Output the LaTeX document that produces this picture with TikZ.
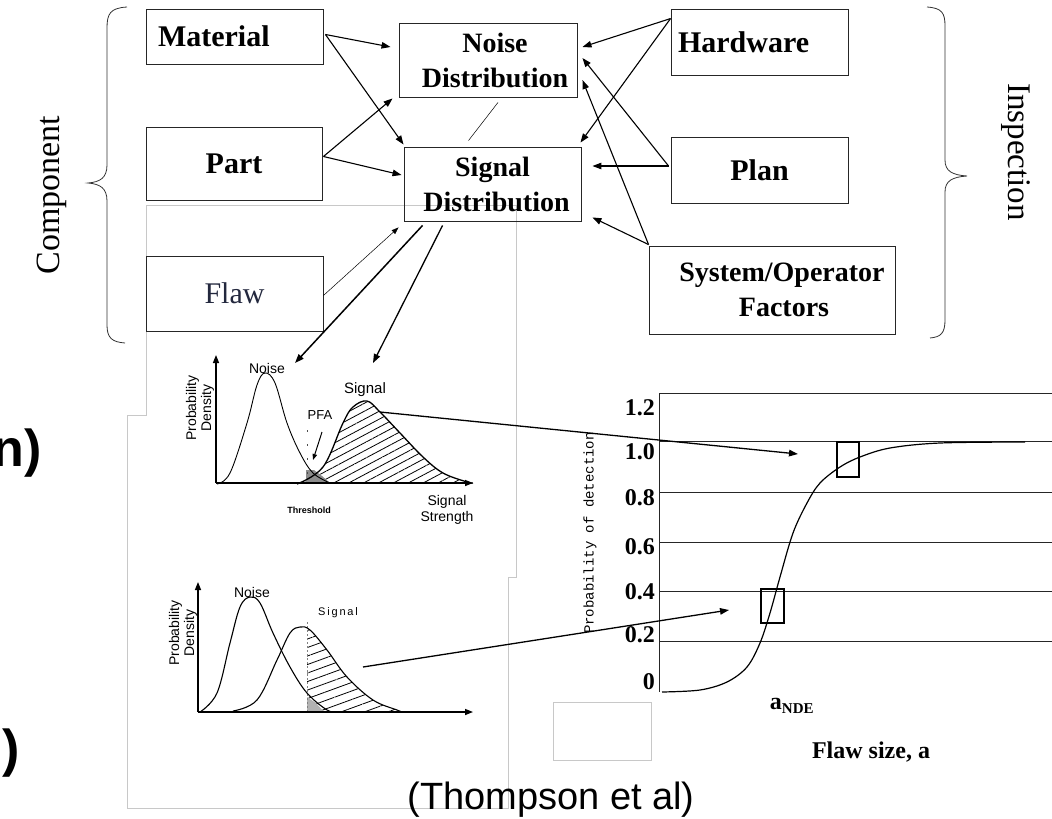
\documentclass[tikz,border=0pt]{standalone}
\usepackage{fontspec}
\setmainfont{Liberation Serif}
\setsansfont{Liberation Sans}
\setmonofont{Liberation Mono}
\usetikzlibrary{arrows.meta,calc,patterns.meta}
\definecolor{flawink}{RGB}{35,40,62}
\definecolor{pagegray}{RGB}{200,200,200}
\begin{document}
\begin{tikzpicture}[x=1pt,y=-1pt,
  box/.style={draw=black!85,line width=0.9pt,rectangle,inner sep=0pt,align=center,
    font=\fontsize{30}{33}\selectfont\bfseries},
  box2/.style={box,font=\fontsize{28}{35}\selectfont\bfseries},
  conn/.style={line width=1.1pt,-{Triangle[length=9pt,width=6.5pt]}},
  thinconn/.style={line width=0.5pt,-{Triangle[length=7pt,width=5pt]}},
  axisarrow/.style={line width=1.4pt,-{Triangle[length=8pt,width=6pt]}},
  curve/.style={line width=1.1pt},
  grid/.style={line width=0.8pt,black!85},
  plotlbl/.style={font=\fontsize{14}{15}\sffamily,inner sep=0pt},
  podlbl/.style={font=\fontsize{24}{24}\selectfont\bfseries,anchor=east,inner sep=0pt},
  brace/.style={line width=0.8pt,black!80}
]
\useasboundingbox (0,0) rectangle (1052,819);
\fill[white] (0,0) rectangle (1052,819);

% pasted image frame
\draw[pagegray,line width=0.7pt] (146,205) -- (516,205) -- (516,577) -- (508,577) -- (508,808)
  -- (127,808) -- (127,415) -- (146,415) -- cycle;

% clipped slide text at the left
\node[anchor=east,inner sep=0pt,font=\fontsize{52}{56}\sffamily\bfseries] (frag1) at (42,453) {n)};
\node[anchor=east,inner sep=0pt,font=\fontsize{52}{56}\sffamily\bfseries] (frag2) at (20,753) {)};

% braces
\draw[brace] (127,7) .. controls (110,8) and (107,14) .. (107,28) -- (107,165)
  .. controls (107,178) and (100,182) .. (88,183)
  .. controls (100,184) and (107,188) .. (107,201) -- (107,325)
  .. controls (107,338) and (112,342) .. (125,343);
\draw[brace] (927,7) .. controls (942,8) and (945,13) .. (945,26) -- (945,160)
  .. controls (945,171) and (952,175) .. (967,176)
  .. controls (952,177) and (945,181) .. (945,192) -- (945,320)
  .. controls (945,333) and (941,337) .. (930,338);
\node[rotate=90,font=\fontsize{34}{36}\selectfont,inner sep=0pt] (comp) at (52,195) {Component};
\node[rotate=-90,font=\fontsize{33}{35}\selectfont,inner sep=0pt] (insp) at (1016,152) {Inspection};

% boxes
\node[box,minimum width=177pt,minimum height=55pt,text width=153pt,align=left,inner xsep=12pt] (mat) at (234.5,36.5) {Material};
\node[box,minimum width=176pt,minimum height=73pt] (part) at (234,163.5) {Part};
\node[box,minimum width=177pt,minimum height=75pt,font=\fontsize{30}{33}\selectfont,text=flawink] (flaw) at (234.5,293.5) {Flaw};
\node[box2,minimum width=178pt,minimum height=74pt] (noise) at (488,60) {\hspace*{14pt}Noise\\\hspace*{14pt}Distribution};
\node[box2,minimum width=177pt,minimum height=74pt] (signal) at (492.5,184) {Signal\\\hspace*{8pt}Distribution};
\node[box,minimum width=177pt,minimum height=66pt,text width=163pt,align=left,inner xsep=7pt] (hw) at (759.5,42) {Hardware};
\node[box,minimum width=177pt,minimum height=66pt] (plan) at (759.5,170) {Plan};
\node[box2,minimum width=246pt,minimum height=88pt] (sys) at (772,290) {\hspace*{20pt}System/Operator\\\hspace*{24pt}Factors};

% connectors of the top diagram
\draw[conn] ($(mat.east)+(2,-2)$) -- ($(noise.west)+(-8,-13)$);
\draw[conn] ($(mat.east)+(2,-2)$) -- ($(signal.north west)+(0,-2)$);
\draw[conn] ($(part.east)+(1,-7)$) -- ($(noise.south west)+(-6,1)$);
\draw[conn] ($(part.east)+(1,-7)$) -- ($(signal.west)+(-2,-9)$);
\draw[thinconn] ($(flaw.east)+(0,2)$) -- ($(signal.south west)+(-5,6)$);
\draw[conn] ($(hw.north west)+(0,10)$) -- ($(noise.east)+(5,-13)$);
\draw[conn] ($(hw.north west)+(0,10)$) -- ($(signal.north east)+(-1,-4)$);
\draw[conn] ($(plan.west)+(-2,-4)$) -- ($(noise.east)+(5,-2)$);
\draw[conn] ($(plan.west)+(-2,-4)$) -- ($(signal.east)+(11,-18)$);
\draw[conn] ($(sys.north west)+(0,-1)$) -- ($(noise.east)+(5,20)$);
\draw[conn] ($(sys.north west)+(0,-1)$) -- ($(signal.south east)+(11,-4)$);
\draw[line width=0.5pt] ($(noise.south)+(10,5)$) -- ($(signal.north)+(-24,-6)$);

% ---------- upper density plot ----------
\coordinate (tn1) at (295,363);
\coordinate (ts1) at (373,363);
\draw[line width=1.5pt,-{Triangle[length=9pt,width=6.5pt]}] ($(signal.south west)+(19,4)$) -- (tn1);
\draw[line width=1.3pt,-{Triangle[length=9pt,width=6.5pt]}] ($(signal.south west)+(39,4)$) -- (ts1);

\fill[pattern={Lines[angle=28,distance=7pt,line width=0.8pt]}]
  plot[smooth,tension=0.6] coordinates {(297,484) (323,467) (343,423) (353,407) (367,401) (380,412) (400,433) (423,457) (443,473) (467,482) (473,483)} -- cycle;
\fill[black!45] (306,470) -- (314,470) -- (322,476) -- (330,483) -- (306,484) -- cycle;
\draw[curve,line width=0.9pt] plot[smooth,tension=0.6] coordinates {(217,484) (230,473) (247,423) (257,385) (265,373) (275,383) (287,423) (300,453) (313,473) (330,483)};
\draw[curve,line width=1.3pt] plot[smooth,tension=0.6] coordinates {(297,484) (323,467) (343,423) (353,407) (367,401) (380,412) (400,433) (423,457) (443,473) (467,482) (473,483)};
\draw[black!70,line width=1pt,dash pattern=on 2pt off 12pt] (307,430) -- (307,484);
\draw[axisarrow] (216,483) -- (216,355);
\draw[axisarrow] (216,483) -- (473,483);
\draw[line width=1pt,-{Triangle[length=6pt,width=4.5pt]}] (322,432) -- (313,460);
\node[plotlbl] (nl1) at (267,368) {Noise};
\node[plotlbl,font=\fontsize{15}{16}\sffamily] (sl1) at (365,390) {Signal};
\node[plotlbl,font=\fontsize{13}{14}\sffamily] (pfa) at (320,415) {PFA};
\node[plotlbl,rotate=90,align=center] (pd1) at (200,408) {Probability\\Density};
\node[plotlbl,font=\fontsize{9}{10}\sffamily\bfseries] (thr) at (309,510) {Threshold};
\node[plotlbl,align=center,font=\fontsize{14}{16}\sffamily] (ss) at (447,510) {Signal\\Strength};

% ---------- lower density plot ----------
\begin{scope}
  \clip (307,560) rectangle (420,713);
  \fill[pattern={Lines[angle=20,distance=8pt,line width=0.8pt]}]
    plot[smooth,tension=0.6] coordinates {(233,711) (257,700) (277,660) (290,633) (300,627) (310,630) (327,650) (347,677) (373,700) (397,710) (402,712)} -- cycle;
\end{scope}
\fill[black!30] (307,697) -- (316,703) -- (324,712) -- (307,712) -- cycle;
\draw[black!50,line width=0.7pt,dash pattern=on 2pt off 2pt] (307,622) -- (307,712);
\draw[curve] plot[smooth,tension=0.6] coordinates {(200,712) (217,693) (230,643) (240,607) (250,597) (260,603) (273,633) (290,667) (307,693) (327,710) (337,712)};
\draw[curve] plot[smooth,tension=0.6] coordinates {(233,711) (257,700) (277,660) (290,633) (300,627) (310,630) (327,650) (347,677) (373,700) (397,710) (402,712)};
\draw[axisarrow] (198,712) -- (198,582);
\draw[axisarrow] (198,712) -- (473,712);
\node[plotlbl] (nl2) at (252,592) {Noise};
\node[plotlbl,font=\fontsize{11}{12}\sffamily] (sl2) at (338,613) {S\,i\,g\,n\,a\,l};
\node[plotlbl,rotate=90,align=center] (pd2) at (183,633) {Probability\\Density};

% ---------- POD chart ----------
\draw[grid] (659,393) -- (1052,393);
\draw[grid] (659,441) -- (1052,441);
\draw[grid] (659,492) -- (1052,492);
\draw[grid] (659,542) -- (1052,542);
\draw[grid] (659,591) -- (1052,591);
\draw[grid] (659,641) -- (1052,641);
\draw[grid] (659,393) -- (659,692);
\node[podlbl] (y12) at (655,408) {1.2};
\node[podlbl] (y10) at (655,452) {1.0};
\node[podlbl] (y08) at (655,498) {0.8};
\node[podlbl] (y06) at (655,547) {0.6};
\node[podlbl] (y04) at (655,592) {0.4};
\node[podlbl] (y02) at (655,635) {0.2};
\node[podlbl] (y00) at (655,682) {0};
\node[rotate=90,inner sep=0pt,font=\fontsize{14}{15}\ttfamily] (podax) at (590,533) {Probability of detection};
\draw[curve,line width=1.2pt] plot[smooth,tension=0.55] coordinates {(662,692) (700,690) (727,682) (747,667) (760,643) (770,613) (780,577) (793,533) (807,503) (820,483) (840,467) (860,457) (890,448) (940,443) (1025,442)};
\draw[line width=1.1pt] (761,589) rectangle (784,623);
\draw[line width=1.1pt] (837,442) rectangle (859,477);
\node[inner sep=0pt,font=\fontsize{24}{24}\selectfont\bfseries] (ande) at (792,706) {a\textsubscript{\fontsize{15}{15}\selectfont NDE}};
\node[inner sep=0pt,font=\fontsize{24}{25}\selectfont\bfseries] (fsize) at (871,752) {Flaw size, a};
\draw[pagegray,line width=0.7pt] (553,702) rectangle (651,760);

% links from density plots to POD curve
\coordinate (pk1) at (380,412);
\coordinate (pod1) at (798,454);
\coordinate (lo1) at (363,667);
\coordinate (pod2) at (729,610);
\draw[conn,line width=1.3pt] (pk1) -- (pod1);
\draw[conn,line width=1.3pt] (lo1) -- (pod2);

% caption
\node[inner sep=0pt,font=\fontsize{38}{40}\sffamily] (cap) at (551,800) {(Thompson et al)};
\end{tikzpicture}
\end{document}
